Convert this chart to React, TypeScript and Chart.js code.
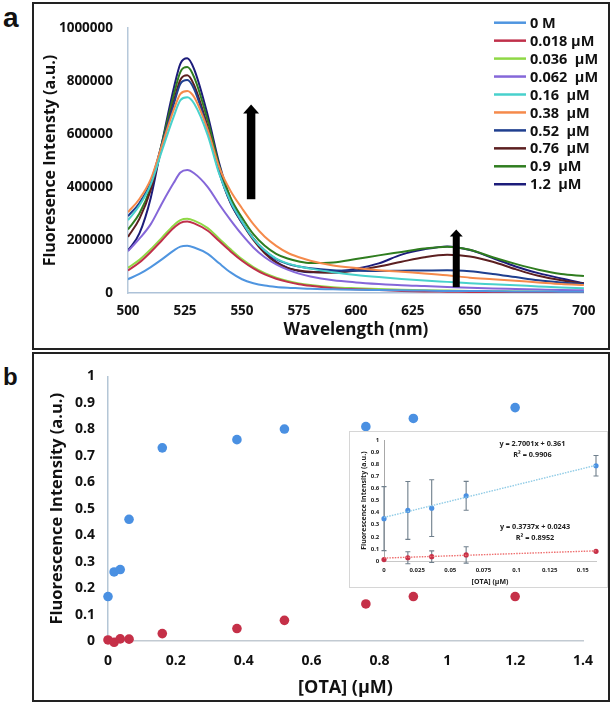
import React, { useEffect, useRef } from 'react';
import { Chart, registerables } from 'chart.js';

Chart.register(...registerables);

const FONT = '"Open Sans", "Liberation Sans", sans-serif';

// ---------------- Panel a: spectra ----------------
const wavelengths = [500, 505, 510, 515, 520, 523, 526, 529, 535, 540, 545, 550, 555, 560, 565, 570, 575, 580, 590, 600, 610, 620, 630, 640, 650, 660, 670, 680, 690, 700];

// intensities in thousands (a.u.)
const s0M = [52, 72, 98, 128, 160, 175, 178, 172, 148, 112, 78, 52, 37, 28, 23, 20, 18, 16, 14, 12, 11, 10, 9, 8, 8, 7, 6, 6, 5, 5];
const s0018 = [85, 115, 155, 200, 245, 265, 270, 263, 235, 196, 157, 122, 93, 70, 54, 42, 33, 27, 18, 14, 11, 8, 6, 5, 4, 3, 2, 2, 1, 1];
const s0036 = [95, 125, 165, 210, 255, 275, 280, 273, 245, 205, 165, 128, 98, 75, 58, 45, 36, 30, 22, 18, 15, 12, 10, 9, 8, 7, 6, 5, 4, 4];
const s0062 = [158, 205, 260, 340, 415, 455, 464, 452, 400, 335, 275, 220, 172, 135, 108, 88, 73, 62, 48, 40, 34, 29, 26, 23, 20, 17, 15, 13, 11, 10];
const s016 = [275, 330, 410, 540, 665, 728, 739, 715, 595, 450, 345, 270, 205, 160, 130, 112, 100, 92, 78, 68, 60, 53, 47, 42, 37, 33, 29, 25, 21, 18];
const s038 = [305, 355, 430, 560, 690, 752, 763, 740, 615, 475, 385, 320, 260, 212, 178, 152, 135, 122, 104, 94, 86, 80, 74, 67, 58, 52, 46, 40, 34, 30];
const s052 = [290, 340, 420, 565, 710, 790, 804, 770, 615, 455, 340, 265, 205, 160, 128, 110, 100, 93, 86, 84, 83, 84, 85, 86, 82, 72, 60, 48, 40, 34];
const s076 = [212, 280, 390, 555, 720, 805, 822, 785, 625, 460, 340, 265, 200, 150, 115, 95, 85, 80, 76, 85, 100, 118, 135, 144, 138, 118, 90, 65, 48, 36];
const s09 = [240, 300, 400, 570, 745, 835, 853, 815, 650, 480, 360, 285, 222, 178, 148, 130, 119, 113, 115, 128, 142, 155, 168, 175, 163, 135, 110, 88, 72, 64];
const s12 = [160, 225, 360, 570, 770, 866, 886, 845, 670, 490, 355, 270, 205, 155, 118, 95, 83, 78, 80, 92, 112, 145, 165, 176, 162, 132, 100, 75, 55, 37];

const seriesLabels = ['0 M', '0.018 µM', '0.036  µM', '0.062  µM', '0.16  µM', '0.38  µM', '0.52  µM', '0.76  µM', '0.9  µM', '1.2  µM'];
const seriesValues = [s0M, s0018, s0036, s0062, s016, s038, s052, s076, s09, s12];
const seriesColors = ['#4f95e0', '#c0304a', '#8fd846', '#8567d9', '#48d1cc', '#f58a4b', '#1f3f8f', '#5c1f20', '#2f7d1f', '#1c1c7a'];
const UNIT = 1000;

const yTicksA = [0, 200000, 400000, 600000, 800000, 1000000];
const yTickLabelsA = ['0', '200000', '400000', '600000', '800000', '1000000'];
const xTicksA = [500, 525, 550, 575, 600, 625, 650, 675, 700];
const xTickLabelsA = ['500', '525', '550', '575', '600', '625', '650', '675', '700'];

// arrows (wavelength, from intensity, to intensity)
const arrowsA = [
  { x: 554, from: 354000, to: 712000, big: true },
  { x: 644, from: 22000, to: 240000, big: false },
];

// ---------------- Panel b ----------------
const otaConc = [0, 0.018, 0.036, 0.062, 0.16, 0.38, 0.52, 0.76, 0.9, 1.2];
const blueB = [0.168, 0.261, 0.27, 0.46, 0.73, 0.761, 0.801, 0.81, 0.841, 0.882];
const redB = [0.004, -0.005, 0.008, 0.007, 0.028, 0.047, 0.078, 0.14, 0.168, 0.168];
const xTicksB = [0, 0.2, 0.4, 0.6, 0.8, 1, 1.2, 1.4];
const xTickLabelsB = ['0', '0.2', '0.4', '0.6', '0.8', '1', '1.2', '1.4'];
const yTicksB = [0, 0.1, 0.2, 0.3, 0.4, 0.5, 0.6, 0.7, 0.8, 0.9, 1];
const yTickLabelsB = ['0', '0.1', '0.2', '0.3', '0.4', '0.5', '0.6', '0.7', '0.8', '0.9', '1'];

// inset
const insetConc = [0, 0.018, 0.036, 0.062, 0.16];
const insetBlue = [0.351, 0.419, 0.438, 0.54, 0.789];
const insetBlueErr = [0.265, 0.24, 0.235, 0.12, 0.085];
const insetRed = [0.012, 0.027, 0.036, 0.05, 0.08];
const insetRedErr = [0, 0.05, 0.048, 0.068, 0];
const blueFit = { slope: 2.7001, intercept: 0.361, eq: 'y = 2.7001x + 0.361', r2: 'R² = 0.9906' };
const redFit = { slope: 0.3737, intercept: 0.0243, eq: 'y = 0.3737x + 0.0243', r2: 'R² = 0.8952' };
const fitRange = [0, 0.16];
const xTicksI = [0, 0.025, 0.05, 0.075, 0.1, 0.125, 0.15];
const xTickLabelsI = ['0', '0.025', '0.05', '0.075', '0.1', '0.125', '0.15'];
const yTicksI = [0, 0.1, 0.2, 0.3, 0.4, 0.5, 0.6, 0.7, 0.8, 0.9, 1];
const yTickLabelsI = ['0', '0.1', '0.2', '0.3', '0.4', '0.5', '0.6', '0.7', '0.8', '0.9', '1'];
// equation label anchors (data coords)
const eqLabels = [
  { x: 0.112, y: 0.97, text: blueFit.eq },
  { x: 0.112, y: 0.883, text: blueFit.r2 },
  { x: 0.114, y: 0.281, text: redFit.eq },
  { x: 0.114, y: 0.191, text: redFit.r2 },
];

const BLUE = '#4a90e2';
const RED = '#c53048';

function tickSetup(values: number[], labels: string[]) {
  return {
    afterBuildTicks: (s: any) => {
      s.ticks = values.map((v) => ({ value: v }));
    },
    cb: (v: number) => {
      const i = values.findIndex((t) => Math.abs(t - v) < 1e-9);
      return i >= 0 ? labels[i] : '';
    },
  };
}

const legendPlugin = {
  id: 'customLegend',
  afterDraw(chart: any) {
    const { ctx } = chart;
    ctx.save();
    ctx.font = `bold 14.5px ${FONT}`;
    ctx.textBaseline = 'middle';
    chart.data.datasets.forEach((ds: any, i: number) => {
      const y = 17.7 + i * 17.95;
      ctx.strokeStyle = ds.borderColor;
      ctx.lineWidth = 2.5;
      ctx.beginPath();
      ctx.moveTo(459, y);
      ctx.lineTo(491, y);
      ctx.stroke();
      ctx.fillStyle = '#111';
      ctx.fillText(ds.label, 495, y + 1);
    });
    ctx.restore();
  },
};

const arrowPlugin = {
  id: 'arrows',
  afterDatasetsDraw(chart: any) {
    const { ctx } = chart;
    const xs = chart.scales.x;
    const ys = chart.scales.y;
    ctx.save();
    ctx.fillStyle = '#000';
    arrowsA.forEach((a) => {
      const x = xs.getPixelForValue(a.x);
      const y0 = ys.getPixelForValue(a.from);
      const y1 = ys.getPixelForValue(a.to);
      const shaft = a.big ? 8.5 : 7;
      const headW = a.big ? 16 : 13;
      const headL = a.big ? 9 : 7;
      ctx.fillRect(x - shaft / 2, y1 + headL - 0.5, shaft, y0 - y1 - headL + 0.5);
      ctx.beginPath();
      ctx.moveTo(x, y1);
      ctx.lineTo(x - headW / 2, y1 + headL);
      ctx.lineTo(x + headW / 2, y1 + headL);
      ctx.closePath();
      ctx.fill();
    });
    ctx.restore();
  },
};

const errorBarPlugin = {
  id: 'errorBars',
  beforeDatasetsDraw(chart: any) {
    const { ctx } = chart;
    const xs = chart.scales.x;
    const ys = chart.scales.y;
    ctx.save();
    ctx.strokeStyle = '#6f7f8c';
    ctx.lineWidth = 1.1;
    chart.data.datasets.forEach((ds: any) => {
      const errs = ds.errors;
      if (!errs) return;
      ds.data.forEach((p: any, j: number) => {
        const e = errs[j];
        if (!e) return;
        const px = xs.getPixelForValue(p.x);
        const yt = ys.getPixelForValue(p.y + e);
        const yb = ys.getPixelForValue(p.y - e);
        ctx.beginPath();
        ctx.moveTo(px, yt);
        ctx.lineTo(px, yb);
        ctx.moveTo(px - 2.5, yt);
        ctx.lineTo(px + 2.5, yt);
        ctx.moveTo(px - 2.5, yb);
        ctx.lineTo(px + 2.5, yb);
        ctx.stroke();
      });
    });
    ctx.restore();
  },
};

const eqPlugin = {
  id: 'equations',
  afterDraw(chart: any) {
    const { ctx } = chart;
    const xs = chart.scales.x;
    const ys = chart.scales.y;
    ctx.save();
    ctx.font = `bold 7.3px ${FONT}`;
    ctx.fillStyle = '#222';
    ctx.textAlign = 'center';
    ctx.textBaseline = 'middle';
    eqLabels.forEach((l) => {
      ctx.fillText(l.text, xs.getPixelForValue(l.x), ys.getPixelForValue(l.y));
    });
    ctx.restore();
  },
};

function axis(opts: any) {
  const t = tickSetup(opts.values, opts.labels);
  return {
    type: 'linear',
    min: opts.min,
    max: opts.max,
    afterBuildTicks: t.afterBuildTicks,
    afterFit: opts.afterFit,
    grid: { display: false, drawTicks: false },
    border: { display: true, color: opts.borderColor, width: opts.borderWidth },
    ticks: {
      callback: t.cb,
      autoSkip: false,
      padding: opts.tickPad,
      color: opts.color,
      font: { family: FONT, size: opts.tickSize, weight: 'bold' },
      maxRotation: 0,
      minRotation: 0,
    },
    title: {
      display: true,
      text: opts.title,
      color: opts.color,
      font: { family: FONT, size: opts.titleSize, weight: 'bold', lineHeight: 1.2 },
      padding: opts.titlePad,
    },
  };
}

export default function App() {
  const refA = useRef<HTMLCanvasElement>(null);
  const refB = useRef<HTMLCanvasElement>(null);
  const refI = useRef<HTMLCanvasElement>(null);

  useEffect(() => {
    const charts: Chart[] = [];

    // ---- Chart a ----
    charts.push(
      new Chart(refA.current as HTMLCanvasElement, {
        type: 'line',
        data: {
          datasets: seriesValues.map((vals, i) => ({
            label: seriesLabels[i],
            data: vals.map((v, j) => ({ x: wavelengths[j], y: v * UNIT })),
            borderColor: seriesColors[i],
            backgroundColor: seriesColors[i],
            borderWidth: 2,
            pointRadius: 0,
            cubicInterpolationMode: 'monotone',
            fill: false,
          })),
        },
        options: {
          responsive: false,
          animation: false,
          events: [],
          layout: { padding: { left: 0, right: 17, top: 17, bottom: 0 } },
          plugins: { legend: { display: false }, tooltip: { enabled: false } },
          scales: {
            x: axis({
              min: 500, max: 700, values: xTicksA, labels: xTickLabelsA,
              afterFit: (s: any) => { s.height = 55; },
              borderColor: '#adc2d8', borderWidth: 1.5, tickPad: 10.5, color: '#111', tickSize: 13.5,
              title: 'Wavelength (nm)', titleSize: 17, titlePad: { top: 0, bottom: 8 },
            }),
            y: axis({
              min: 0, max: 1000000, values: yTicksA, labels: yTickLabelsA,
              afterFit: (s: any) => { s.width = 93; },
              borderColor: '#b6c8da', borderWidth: 1.5, tickPad: 15, color: '#111', tickSize: 13.5,
              title: 'Fluoresence Intensty (a.u.)', titleSize: 16, titlePad: { top: 6, bottom: 0 },
            }),
          },
        } as any,
        plugins: [legendPlugin, arrowPlugin],
      })
    );

    // ---- Chart b ----
    charts.push(
      new Chart(refB.current as HTMLCanvasElement, {
        type: 'scatter',
        data: {
          datasets: [
            {
              label: 'blue',
              data: otaConc.map((c, i) => ({ x: c, y: blueB[i] })),
              backgroundColor: BLUE,
              borderWidth: 0,
              pointRadius: 4.8,
              clip: false,
            },
            {
              label: 'red',
              data: otaConc.map((c, i) => ({ x: c, y: redB[i] })),
              backgroundColor: RED,
              borderWidth: 0,
              pointRadius: 4.8,
              clip: false,
            },
          ],
        },
        options: {
          responsive: false,
          animation: false,
          events: [],
          layout: { padding: { left: 0, right: 24, top: 19, bottom: 0 } },
          plugins: { legend: { display: false }, tooltip: { enabled: false } },
          scales: {
            x: axis({
              min: 0, max: 1.4, values: xTicksB, labels: xTickLabelsB,
              afterFit: (s: any) => { s.height = 58; },
              borderColor: '#c2cad2', borderWidth: 1.5, tickPad: 12, color: '#111', tickSize: 14,
              title: '[OTA] (µM)', titleSize: 18, titlePad: { top: 0, bottom: 0 },
            }),
            y: axis({
              min: 0, max: 1, values: yTicksB, labels: yTickLabelsB,
              afterFit: (s: any) => { s.width = 73; },
              borderColor: '#b4c6d6', borderWidth: 1.5, tickPad: 13, color: '#111', tickSize: 14,
              title: 'Fluorescence Intensity (a.u.)', titleSize: 16.5, titlePad: { top: 12.5, bottom: 0 },
            }),
          },
        } as any,
      })
    );

    // ---- Inset ----
    charts.push(
      new Chart(refI.current as HTMLCanvasElement, {
        type: 'scatter',
        data: {
          datasets: [
            {
              type: 'line',
              label: 'blue fit',
              data: fitRange.map((x) => ({ x, y: blueFit.slope * x + blueFit.intercept })),
              borderColor: '#8fcbe6',
              borderWidth: 1.4,
              borderDash: [1.5, 1.2],
              pointRadius: 0,
              fill: false,
            },
            {
              type: 'line',
              label: 'red fit',
              data: fitRange.map((x) => ({ x, y: redFit.slope * x + redFit.intercept })),
              borderColor: '#ee6f6f',
              borderWidth: 1.4,
              borderDash: [1.5, 1.2],
              pointRadius: 0,
              fill: false,
            },
            {
              label: 'blue',
              data: insetConc.map((c, i) => ({ x: c, y: insetBlue[i] })),
              errors: insetBlueErr,
              backgroundColor: BLUE,
              borderWidth: 0,
              pointRadius: 2.6,
              clip: false,
            },
            {
              label: 'red',
              data: insetConc.map((c, i) => ({ x: c, y: insetRed[i] })),
              errors: insetRedErr,
              backgroundColor: RED,
              borderWidth: 0,
              pointRadius: 2.6,
              clip: false,
            },
          ],
        },
        options: {
          responsive: false,
          animation: false,
          events: [],
          layout: { padding: { left: 0, right: 11, top: 7, bottom: 0 } },
          plugins: { legend: { display: false }, tooltip: { enabled: false } },
          scales: {
            x: axis({
              min: 0, max: 0.16, values: xTicksI, labels: xTickLabelsI,
              afterFit: (s: any) => { s.height = 26; },
              borderColor: '#c8c8c8', borderWidth: 1, tickPad: 6, color: '#222', tickSize: 6,
              title: '[OTA] (µM)', titleSize: 7, titlePad: { top: 0, bottom: 0.5 },
            }),
            y: axis({
              min: 0, max: 1, values: yTicksI, labels: yTickLabelsI,
              afterFit: (s: any) => { s.width = 34; },
              borderColor: '#a8a8a8', borderWidth: 1, tickPad: 4.7, color: '#222', tickSize: 6,
              title: 'Fluorescence Intensity (a.u.)', titleSize: 7, titlePad: { top: 9.5, bottom: 0 },
            }),
          },
        } as any,
        plugins: [errorBarPlugin, eqPlugin],
      })
    );

    return () => charts.forEach((c) => c.destroy());
  }, []);

  const border = '2px solid #222';
  return (
    <div style={{ position: 'absolute', left: 0, top: 0, width: 614, height: 706, background: '#fff', overflow: 'hidden' }}>
      <div style={{ position: 'absolute', left: 32, top: 2, width: 578, height: 348, border, boxSizing: 'border-box' }} />
      <div style={{ position: 'absolute', left: 32, top: 352, width: 578, height: 350, border, boxSizing: 'border-box' }} />
      <div style={{ position: 'absolute', left: 3, top: 4, fontFamily: '"Liberation Sans", Arial, sans-serif', fontWeight: 'bold', fontSize: 28, lineHeight: '28px', color: '#111' }}>a</div>
      <div style={{ position: 'absolute', left: 3, top: 365, fontFamily: '"Liberation Sans", Arial, sans-serif', fontWeight: 'bold', fontSize: 24, lineHeight: '24px', color: '#111' }}>b</div>
      <canvas ref={refA} width={571} height={343} style={{ position: 'absolute', left: 35, top: 5 }} />
      <canvas ref={refB} width={572} height={344} style={{ position: 'absolute', left: 35, top: 355 }} />
      <div style={{ position: 'absolute', left: 349, top: 431, width: 259, height: 157, border: '1px solid #d6d6d6', background: '#fff', boxSizing: 'border-box' }}>
        <canvas ref={refI} width={257} height={155} style={{ position: 'absolute', left: 0, top: 0 }} />
      </div>
    </div>
  );
}
